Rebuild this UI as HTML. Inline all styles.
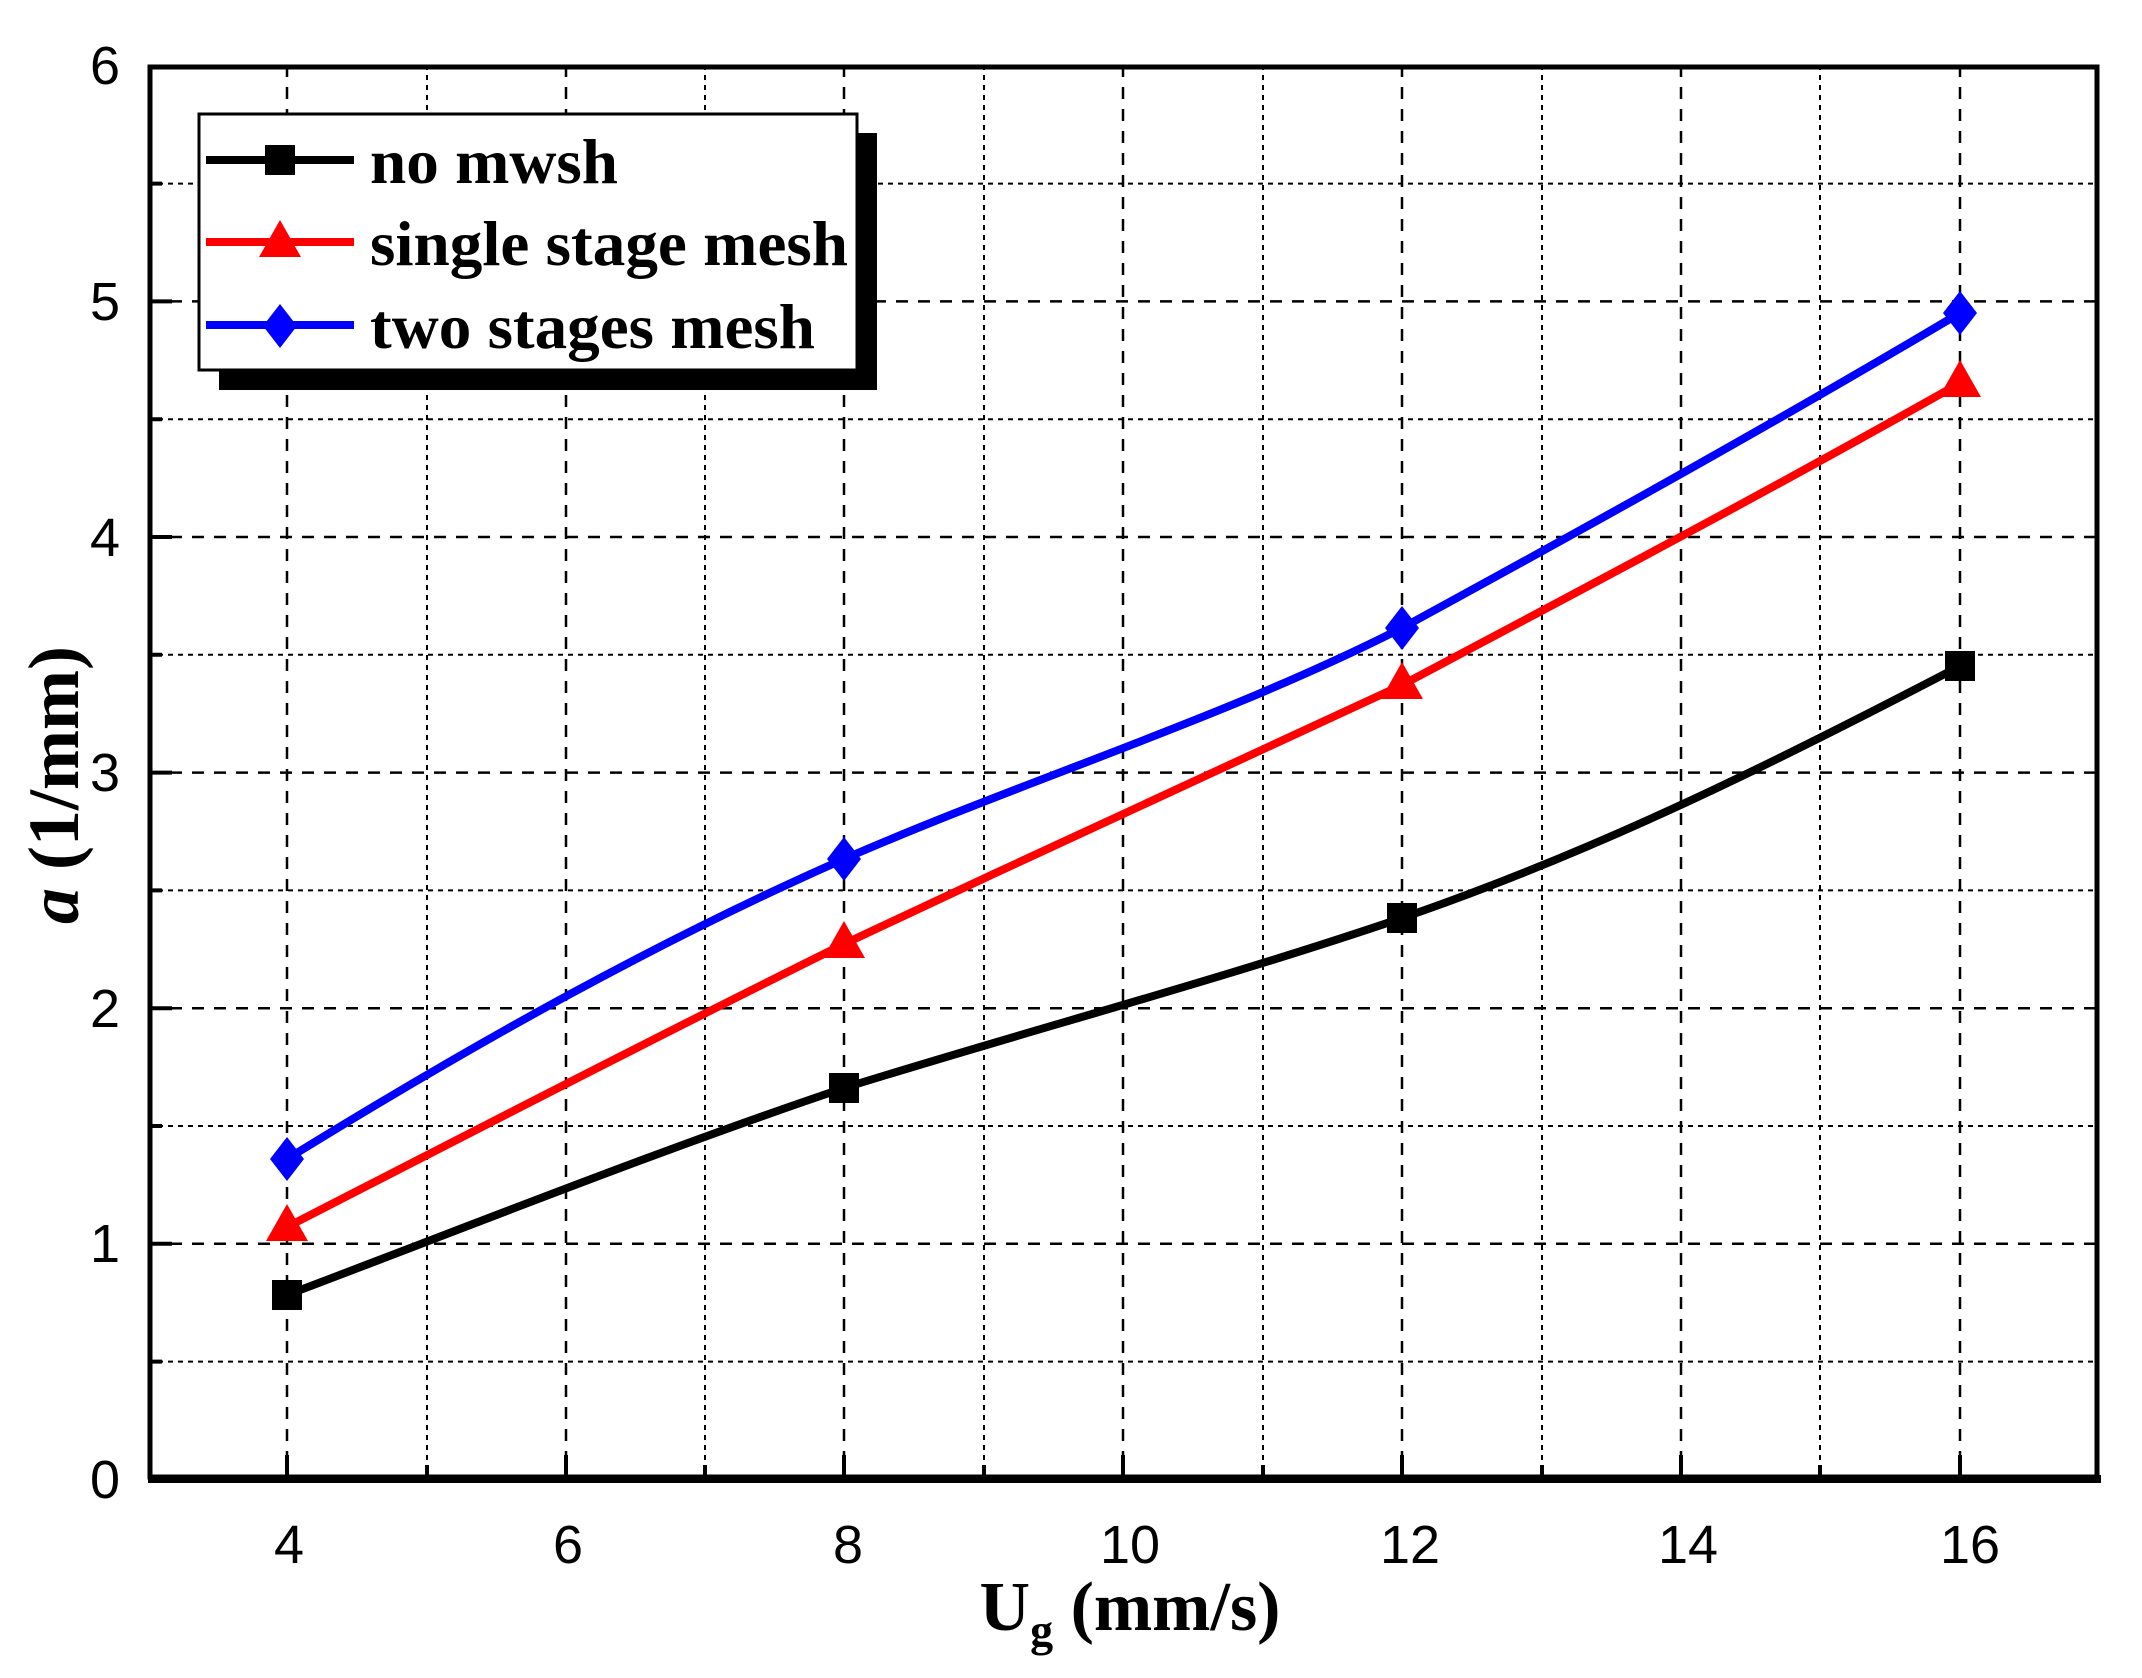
<!DOCTYPE html>
<html><head><meta charset="utf-8"><style>body{margin:0;background:#fff}</style></head><body>
<svg width="2142" height="1673" xmlns="http://www.w3.org/2000/svg">
<rect width="2142" height="1673" fill="#fff"/>
<g stroke="#000" stroke-width="2.5" stroke-dasharray="12,10">
<line x1="287" y1="65" x2="287" y2="1479"/><line x1="566" y1="65" x2="566" y2="1479"/><line x1="844" y1="65" x2="844" y2="1479"/><line x1="1123" y1="65" x2="1123" y2="1479"/><line x1="1402" y1="65" x2="1402" y2="1479"/><line x1="1681" y1="65" x2="1681" y2="1479"/><line x1="1960" y1="65" x2="1960" y2="1479"/>
<line x1="148" y1="301.4" x2="2099" y2="301.4"/><line x1="148" y1="537" x2="2099" y2="537"/><line x1="148" y1="772.6" x2="2099" y2="772.6"/><line x1="148" y1="1008.2" x2="2099" y2="1008.2"/><line x1="148" y1="1243.8" x2="2099" y2="1243.8"/>
</g>
<g stroke="#000" stroke-width="2" stroke-dasharray="5,5">
<line x1="427" y1="65" x2="427" y2="1479"/><line x1="705" y1="65" x2="705" y2="1479"/><line x1="984" y1="65" x2="984" y2="1479"/><line x1="1263" y1="65" x2="1263" y2="1479"/><line x1="1542" y1="65" x2="1542" y2="1479"/><line x1="1820" y1="65" x2="1820" y2="1479"/>
<line x1="148" y1="183.6" x2="2099" y2="183.6"/><line x1="148" y1="419.2" x2="2099" y2="419.2"/><line x1="148" y1="654.8" x2="2099" y2="654.8"/><line x1="148" y1="890.4" x2="2099" y2="890.4"/><line x1="148" y1="1126" x2="2099" y2="1126"/><line x1="148" y1="1361.6" x2="2099" y2="1361.6"/>
</g>
<g stroke="#000" stroke-width="4">
<path d="M287 1479v-24M566 1479v-24M844 1479v-24M1123 1479v-24M1402 1479v-24M1681 1479v-24M1960 1479v-24"/>
<path d="M427 1479v-14M705 1479v-14M984 1479v-14M1263 1479v-14M1542 1479v-14M1820 1479v-14"/>
<path d="M148 301.4h24M148 537h24M148 772.6h24M148 1008.2h24M148 1243.8h24"/>
<path d="M148 183.6h14M148 419.2h14M148 654.8h14M148 890.4h14M148 1126h14M148 1361.6h14"/>
</g>
<rect x="150" y="67" width="1947" height="1410" fill="none" stroke="#000" stroke-width="5"/>
<line x1="148" y1="1479" x2="2101" y2="1479" stroke="#000" stroke-width="8"/>
<g fill="none" stroke-width="8" stroke-linejoin="round">
<path stroke="#000" d="M287,1295 C480,1222 660,1150 844,1088 C1030,1030 1220,980 1402,918 C1600,850 1780,760 1960,666"/>
<path stroke="#f00" d="M287,1227 C480,1128 660,1035 844,944 C1030,856 1220,770 1402,685 C1600,580 1780,485 1960,383"/>
<path stroke="#00f" d="M287,1159 C480,1040 660,940 844,859 C1030,778 1220,720 1402,628 C1600,520 1780,420 1960,313"/>
</g>
<g fill="#000"><rect x="272" y="1280" width="30" height="30"/><rect x="829" y="1073" width="30" height="30"/><rect x="1387" y="903" width="30" height="30"/><rect x="1945" y="651" width="30" height="30"/></g>
<g fill="#f00"><path d="M287 1204l-21 37h42z"/><path d="M844 921l-21 37h42z"/><path d="M1402 662l-21 37h42z"/><path d="M1960 360l-21 37h42z"/></g>
<g fill="#00f"><path d="M287 1137l17 22-17 22-17-22z"/><path d="M844 837l17 22-17 22-17-22z"/><path d="M1402 606l17 22-17 22-17-22z"/><path d="M1960 291l17 22-17 22-17-22z"/></g>
<rect x="219" y="133" width="658" height="257" fill="#000"/>
<rect x="199" y="114" width="658" height="256" fill="#fff" stroke="#000" stroke-width="3"/>
<g stroke-width="8"><line x1="206" y1="160" x2="354" y2="160" stroke="#000"/><line x1="206" y1="242" x2="354" y2="242" stroke="#f00"/><line x1="206" y1="325" x2="354" y2="325" stroke="#00f"/></g>
<rect x="265" y="145" width="30" height="30"/><path d="M280 220l-21 37h42z" fill="#f00"/><path d="M280 304l17 22-17 22-17-22z" fill="#00f"/>
<g font-family="Liberation Serif, serif" font-weight="bold" font-size="64" fill="#000">
<text x="370" y="183" textLength="248" lengthAdjust="spacingAndGlyphs">no mwsh</text><text x="370" y="265" textLength="478" lengthAdjust="spacingAndGlyphs">single stage mesh</text><text x="370" y="348" textLength="445" lengthAdjust="spacingAndGlyphs">two stages mesh</text>
</g>
<g font-family="Liberation Sans, sans-serif" font-size="54" fill="#000" text-anchor="middle">
<text x="289" y="1563">4</text><text x="568" y="1563">6</text><text x="848" y="1563">8</text><text x="1130" y="1563">10</text><text x="1410" y="1563">12</text><text x="1688" y="1563">14</text><text x="1970" y="1563">16</text>
<text x="105" y="1498">0</text><text x="105" y="1262">1</text><text x="105" y="1027">2</text><text x="105" y="791">3</text><text x="105" y="556">4</text><text x="105" y="320">5</text><text x="105" y="84">6</text>
</g>
<text x="1130" y="1630" font-family="Liberation Serif, serif" font-weight="bold" font-size="70" text-anchor="middle">U<tspan font-size="46" dy="16">g</tspan><tspan dy="-16"> (mm/s)</tspan></text>
<text transform="translate(78,785) rotate(-90)" font-family="Liberation Serif, serif" font-weight="bold" font-size="72" text-anchor="middle"><tspan font-style="italic">a</tspan> (1/mm)</text>
</svg>
</body></html>
